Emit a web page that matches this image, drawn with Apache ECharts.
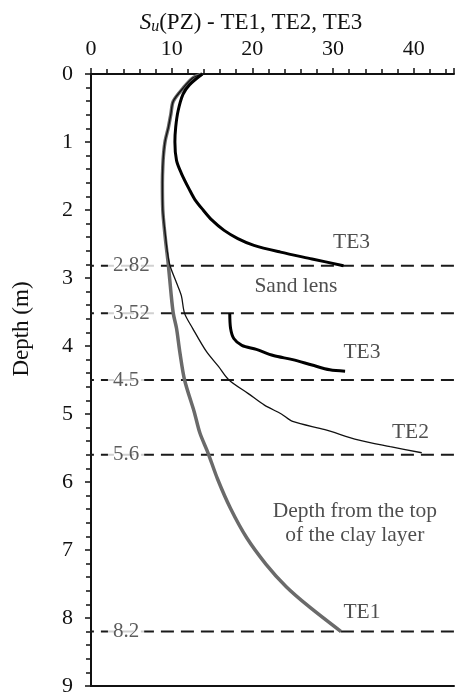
<!DOCTYPE html>
<html>
<head>
<meta charset="utf-8">
<script src="https://cdn.jsdelivr.net/npm/echarts@6/dist/echarts.min.js"></script>
<style>
  html, body { margin: 0; padding: 0; background: #fff; }
  #chart { width: 457px; height: 697px; }
</style>
</head>
<body>
<div id="chart"></div>
<script>
// Undrained shear strength Su(PZ) profiles (kPa) versus depth (m)
const te1Depth = [0, 0.06, 0.21, 0.40, 0.59, 0.78, 0.98, 1.17, 1.36, 1.60, 2.00, 2.40, 2.82, 3.20, 3.52, 3.74, 4.08, 4.50, 4.97, 5.28, 5.57, 5.96, 6.39, 6.82, 7.21, 7.54, 7.83, 8.20];
const te1Su    = [13.8, 12.6, 11.4, 10.2, 9.9, 9.6, 9.2, 9.0, 8.9, 8.85, 8.9, 9.2, 9.6, 9.9, 10.2, 10.6, 11.0, 11.6, 12.8, 13.5, 14.5, 15.7, 17.3, 19.3, 21.7, 24.2, 27.0, 31.0];

const te2Depth = [0, 0.06, 0.21, 0.40, 0.59, 0.78, 0.98, 1.17, 1.36, 1.60, 2.00, 2.40, 2.60, 2.82, 3.07, 3.26, 3.52, 3.74, 4.08, 4.30, 4.50, 4.70, 4.87, 5.00, 5.11, 5.23, 5.38, 5.48, 5.57];
const te2Su    = [13.8, 12.6, 11.4, 10.2, 9.9, 9.6, 9.2, 9.0, 8.9, 8.85, 8.9, 9.25, 9.45, 9.8, 10.6, 11.2, 11.6, 12.6, 14.3, 15.8, 17.1, 19.5, 21.5, 23.6, 25.0, 29.0, 33.1, 37.1, 41.0];

// TE3: upper clay above the sand lens, then below it (null = gap)
const te3Depth = [0, 0.16, 0.30, 0.54, 0.78, 1.00, 1.27, 1.46, 1.70, 1.85, 2.00, 2.15, 2.30, 2.42, 2.52, 2.62, 2.72, 2.82, null, 3.52, 3.74, 3.89, 3.99, 4.05, 4.14, 4.20, 4.28, 4.35, 4.37];
const te3Su    = [13.8, 12.2, 11.4, 10.8, 10.5, 10.4, 10.6, 11.2, 12.2, 12.9, 13.9, 15.0, 16.5, 18.2, 20.2, 23.5, 27.4, 31.3, null, 17.2, 17.3, 17.7, 18.7, 20.5, 22.6, 25.0, 27.4, 29.6, 31.5];

// Layer boundary depths (m)
const layerDepths = [2.82, 3.52, 4.5, 5.6, 8.2];

// Axis tick labels
const suTickLabels = [0, 10, 20, 30, 40];
const depthTickLabels = [0, 1, 2, 3, 4, 5, 6, 7, 8, 9];

// Curve and zone annotations: text with [Su, depth] anchor
const noteTexts = ['TE3', 'TE3', 'TE2', 'TE1', 'Sand lens', 'Depth from the top\nof the clay layer'];
const noteSu    = [30.0, 31.3, 37.3, 31.3, 25.4, 32.7];
const noteDepth = [2.47, 4.09, 5.27, 7.91, 3.12, 6.61];
const noteAlign = ['left', 'left', 'left', 'left', 'center', 'center'];

const FONT = '"Liberation Serif", "Times New Roman", serif';
const INK = '#111';

const zip = (xs, ys) => xs.map((x, i) => (x === null || ys[i] === null) ? ['-', '-'] : [x, ys[i]]);

// Dashed boundary lines: a short stub left of the axis through to the right edge
const boundaryData = [];
layerDepths.forEach(d => {
  boundaryData.push([-1.25, d], [45, d], ['-', '-']);
});

const chart = echarts.init(document.getElementById('chart'), null, { renderer: 'canvas' });

chart.setOption({
  animation: false,
  backgroundColor: '#fff',
  textStyle: { fontFamily: FONT, color: INK },
  title: {
    text: '{i|S}{sub|u}{n|(PZ) - TE1, TE2, TE3}',
    left: 246,
    textAlign: 'center',
    top: 5,
    textStyle: {
      fontWeight: 'normal',
      rich: {
        i: { fontFamily: FONT, fontStyle: 'italic', fontWeight: 'normal', fontSize: 23, color: INK },
        sub: { fontFamily: FONT, fontStyle: 'italic', fontWeight: 'normal', fontSize: 16, color: INK, padding: [9, 0, 0, 0] },
        n: { fontFamily: FONT, fontWeight: 'normal', fontSize: 23, color: INK }
      }
    }
  },
  graphic: [{
    type: 'text',
    x: 22,
    y: 329,
    rotation: Math.PI / 2,
    style: {
      text: 'Depth (m)',
      font: '23px ' + FONT,
      fill: INK,
      align: 'center',
      verticalAlign: 'middle'
    }
  }],
  grid: { left: 91, top: 74, width: 370.4, height: 623.7, containLabel: false },
  xAxis: [{
    type: 'value',
    position: 'top',
    min: 0,
    max: 45,
    interval: 10,
    axisLine: { show: true, onZero: false, lineStyle: { color: INK, width: 2 } },
    axisTick: { show: true, inside: false, length: 6, lineStyle: { color: INK, width: 1.5 } },
    minorTick: { show: true, splitNumber: 5, length: 5, lineStyle: { color: INK, width: 1.5 } },
    splitLine: { show: false },
    minorSplitLine: { show: false },
    axisLabel: {
      margin: 14,
      fontSize: 22,
      fontFamily: FONT,
      color: INK,
      formatter: v => suTickLabels.includes(v) ? String(v) : ''
    }
  }, {
    type: 'value',
    position: 'bottom',
    min: 0,
    max: 45,
    axisLine: { show: true, onZero: false, lineStyle: { color: INK, width: 2 } },
    axisTick: { show: false },
    axisLabel: { show: false },
    splitLine: { show: false }
  }],
  yAxis: {
    type: 'value',
    inverse: true,
    min: 0,
    max: 9,
    interval: 1,
    axisLine: { show: true, onZero: false, lineStyle: { color: INK, width: 2 } },
    axisTick: { show: true, inside: false, length: 6, lineStyle: { color: INK, width: 1.5 } },
    minorTick: { show: true, splitNumber: 5, length: 5, lineStyle: { color: INK, width: 1.5 } },
    splitLine: { show: false },
    minorSplitLine: { show: false },
    axisLabel: {
      margin: 18,
      fontSize: 22,
      fontFamily: FONT,
      color: INK,
      formatter: v => depthTickLabels.includes(v) ? String(v) : ''
    }
  },
  series: [
    {
      name: 'Layer boundaries',
      type: 'line',
      clip: false,
      silent: true,
      showSymbol: false,
      connectNulls: false,
      data: boundaryData,
      lineStyle: { color: '#1a1a1a', width: 2, type: [13, 7] },
      z: 2
    },
    {
      name: 'TE1',
      type: 'line',
      showSymbol: false,
      smooth: 0.3,
      data: zip(te1Su, te1Depth),
      lineStyle: { color: '#6a6a6a', width: 3.5 },
      z: 3
    },
    {
      name: 'TE2',
      type: 'line',
      showSymbol: false,
      smooth: 0.3,
      data: zip(te2Su, te2Depth),
      lineStyle: { color: '#111', width: 1.3 },
      z: 4
    },
    {
      name: 'TE3',
      type: 'line',
      showSymbol: false,
      smooth: 0.3,
      connectNulls: false,
      data: zip(te3Su, te3Depth),
      lineStyle: { color: '#000', width: 3 },
      z: 5
    },
    {
      name: 'Boundary labels',
      type: 'scatter',
      silent: true,
      symbolSize: 0,
      data: layerDepths.map(d => [2.1, d]),
      label: {
        show: true,
        position: 'inside',
        align: 'left',
        verticalAlign: 'middle',
        formatter: p => String(p.value[1]),
        fontFamily: FONT,
        fontSize: 21,
        color: '#333',
        backgroundColor: '#fff',
        padding: [0, 5, 0, 5]
      },
      z: 6
    },
    {
      name: 'Notes',
      type: 'scatter',
      silent: true,
      symbolSize: 0,
      data: noteTexts.map((t, i) => ({
        value: [noteSu[i], noteDepth[i]],
        label: { formatter: t, align: noteAlign[i] }
      })),
      label: {
        show: true,
        position: 'inside',
        verticalAlign: 'middle',
        fontFamily: FONT,
        fontSize: 21.5,
        lineHeight: 24,
        color: '#222'
      },
      z: 6
    }
  ]
});
</script>
</body>
</html>
